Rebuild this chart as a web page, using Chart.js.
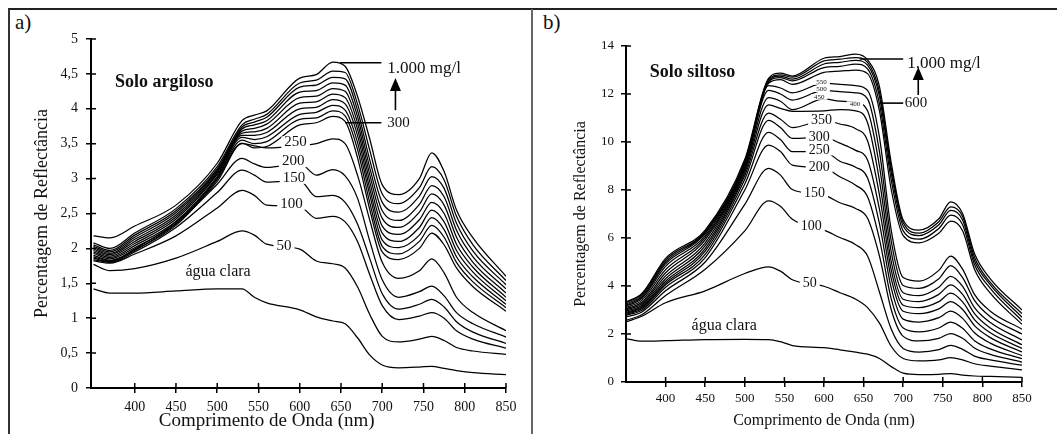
<!DOCTYPE html>
<html lang="pt">
  <head>
    <meta charset="UTF-8" />
    <title>Reflectância de água com sedimentos</title>
    <style>
      * {
        margin: 0;
        padding: 0;
      }
      body {
        width: 1057px;
        height: 434px;
        background: white;
        position: relative;
        overflow: hidden;
        font-family: "Liberation Serif", serif;
      }
      .frame {
        position: absolute;
        left: 8px;
        top: 8px;
        width: 1060px;
        height: 440px;
        border-top: 2px solid #222;
        border-left: 2px solid #333;
      }
      .divider {
        position: absolute;
        left: 531px;
        top: 9px;
        width: 2px;
        height: 430px;
        background: #666;
      }
      .tag {
        position: absolute;
        top: 9px;
        font-size: 21px;
        line-height: 26px;
        color: #111;
      }
      canvas {
        position: absolute;
        top: 10px;
      }
    </style>
  </head>
  <body>
    <div class="frame"></div>
    <div class="divider"></div>
    <div class="tag" style="left: 15px">a)</div>
    <div class="tag" style="left: 543px">b)</div>
    <canvas id="chartA" width="521" height="424" style="left: 10px"></canvas>
    <canvas id="chartB" width="524" height="424" style="left: 533px"></canvas>

    <script src="https://cdn.jsdelivr.net/npm/chart.js"></script>
    <script>
      // comprimento de onda (nm)
      const wavelengths = [350, 370, 400, 450, 500, 530, 545, 560, 600, 620, 640, 655, 670, 685, 700, 720, 745, 760, 775, 790, 810, 850];
      const xTicks = [400, 450, 500, 550, 600, 650, 700, 750, 800, 850];
      const yTicksA = [0, 0.5, 1, 1.5, 2, 2.5, 3, 3.5, 4, 4.5, 5];
      const yTicksB = [0, 2, 4, 6, 8, 10, 12, 14];

      // a) solo argiloso
      const argAgua = [1.42, 1.36, 1.36, 1.39, 1.42, 1.42, 1.30, 1.22, 1.12, 1.02, 0.96, 0.92, 0.72, 0.47, 0.33, 0.29, 0.30, 0.31, 0.28, 0.25, 0.22, 0.19];
      const arg50 = [1.77, 1.68, 1.71, 1.86, 2.10, 2.25, 2.19, 2.06, 1.99, 1.82, 1.78, 1.72, 1.45, 1.05, 0.74, 0.66, 0.70, 0.74, 0.68, 0.58, 0.53, 0.48];
      const arg100 = [1.82, 1.79, 1.92, 2.18, 2.58, 2.83, 2.76, 2.62, 2.60, 2.43, 2.46, 2.38, 2.10, 1.62, 1.18, 0.98, 1.03, 1.08, 1.00, 0.82, 0.70, 0.57];
      const arg150 = [1.84, 1.80, 1.95, 2.30, 2.80, 3.12, 3.05, 2.95, 2.97, 2.74, 2.76, 2.66, 2.35, 1.85, 1.35, 1.13, 1.20, 1.27, 1.16, 0.95, 0.80, 0.64];
      const arg200 = [1.86, 1.81, 1.97, 2.35, 2.92, 3.29, 3.21, 3.16, 3.22, 3.05, 3.13, 3.04, 2.72, 2.10, 1.55, 1.30, 1.38, 1.46, 1.32, 1.08, 0.92, 0.73];
      const arg250 = [1.88, 1.82, 1.99, 2.38, 2.96, 3.50, 3.47, 3.44, 3.47, 3.50, 3.57, 3.50, 3.05, 2.40, 1.80, 1.57, 1.68, 1.85, 1.65, 1.30, 1.08, 0.82];
      const arg300 = [1.90, 1.83, 1.98, 2.33, 2.99, 3.51, 3.44, 3.46, 3.77, 3.80, 3.89, 3.82, 3.30, 2.55, 1.95, 1.84, 2.00, 2.22, 2.05, 1.72, 1.45, 1.10];
      const arg350 = [1.93, 1.85, 2.01, 2.36, 3.01, 3.55, 3.50, 3.53, 3.85, 3.87, 3.97, 3.90, 3.42, 2.65, 2.03, 1.92, 2.10, 2.33, 2.16, 1.80, 1.52, 1.15];
      const arg400 = [1.95, 1.87, 2.04, 2.39, 3.03, 3.59, 3.56, 3.60, 3.92, 3.95, 4.05, 3.98, 3.52, 2.76, 2.12, 2.01, 2.19, 2.44, 2.27, 1.88, 1.59, 1.20];
      const arg450 = [1.97, 1.89, 2.07, 2.42, 3.06, 3.62, 3.62, 3.66, 4.00, 4.02, 4.13, 4.07, 3.62, 2.85, 2.22, 2.10, 2.30, 2.55, 2.38, 1.97, 1.66, 1.25];
      const arg500 = [1.99, 1.91, 2.10, 2.45, 3.08, 3.65, 3.67, 3.72, 4.08, 4.10, 4.21, 4.16, 3.71, 2.95, 2.32, 2.20, 2.41, 2.66, 2.50, 2.06, 1.73, 1.30];
      const arg600 = [2.01, 1.93, 2.13, 2.48, 3.10, 3.68, 3.72, 3.78, 4.16, 4.18, 4.29, 4.25, 3.80, 3.05, 2.43, 2.30, 2.52, 2.78, 2.62, 2.16, 1.80, 1.36];
      const arg700 = [2.03, 1.95, 2.16, 2.51, 3.12, 3.71, 3.77, 3.83, 4.24, 4.26, 4.37, 4.34, 3.89, 3.15, 2.54, 2.40, 2.63, 2.90, 2.74, 2.26, 1.88, 1.42];
      const arg800 = [2.05, 1.97, 2.19, 2.54, 3.14, 3.74, 3.81, 3.88, 4.31, 4.34, 4.45, 4.43, 3.98, 3.26, 2.66, 2.52, 2.75, 3.03, 2.86, 2.36, 1.96, 1.48];
      const arg900 = [2.08, 2.00, 2.22, 2.57, 3.17, 3.77, 3.85, 3.92, 4.37, 4.41, 4.54, 4.52, 4.07, 3.40, 2.78, 2.64, 2.87, 3.17, 2.98, 2.46, 2.05, 1.54];
      const arg1000 = [2.18, 2.15, 2.32, 2.62, 3.22, 3.83, 3.91, 3.97, 4.44, 4.49, 4.67, 4.61, 4.18, 3.56, 2.91, 2.77, 3.00, 3.37, 3.10, 2.55, 2.15, 1.60];

      // b) solo siltoso
      const silAgua = [1.81, 1.70, 1.72, 1.77, 1.78, 1.77, 1.68, 1.52, 1.43, 1.34, 1.24, 1.16, 0.98, 0.64, 0.37, 0.31, 0.32, 0.35, 0.29, 0.25, 0.23, 0.19];
      const sil50 = [2.50, 2.74, 3.30, 3.80, 4.52, 4.80, 4.62, 4.26, 3.99, 3.72, 3.45, 3.10, 2.45, 1.48, 0.98, 0.88, 0.92, 1.02, 0.92, 0.76, 0.66, 0.51];
      const sil100 = [2.57, 2.80, 3.60, 4.70, 6.30, 7.55, 7.32, 6.78, 6.33, 6.02, 5.72, 5.25, 3.75, 2.20, 1.40, 1.25, 1.35, 1.53, 1.36, 1.08, 0.92, 0.70];
      const sil150 = [2.71, 2.92, 3.80, 5.00, 7.40, 8.90, 8.62, 8.02, 7.79, 7.47, 7.23, 6.82, 5.25, 3.00, 1.90, 1.71, 1.82, 2.02, 1.82, 1.42, 1.15, 0.83];
      const sil200 = [2.78, 2.99, 3.95, 5.18, 8.00, 9.87, 9.60, 9.04, 8.92, 8.55, 8.20, 7.72, 5.95, 3.45, 2.25, 2.09, 2.25, 2.50, 2.24, 1.72, 1.38, 0.97];
      const sil250 = [2.82, 3.05, 4.05, 5.32, 8.25, 10.40, 10.10, 9.60, 9.60, 9.20, 8.95, 8.50, 6.60, 3.90, 2.62, 2.50, 2.68, 2.95, 2.65, 2.05, 1.62, 1.10];
      const sil300 = [2.86, 3.10, 4.12, 5.45, 8.45, 10.90, 10.60, 10.15, 10.20, 9.95, 9.65, 9.25, 7.20, 4.30, 2.95, 2.85, 3.05, 3.35, 3.02, 2.35, 1.85, 1.25];
      const sil350 = [2.90, 3.15, 4.20, 5.56, 8.60, 11.20, 10.95, 10.60, 10.90, 10.75, 10.55, 10.05, 7.80, 4.65, 3.20, 3.10, 3.35, 3.70, 3.34, 2.60, 2.05, 1.40];
      const sil400 = [2.95, 3.20, 4.30, 5.68, 8.72, 11.55, 11.40, 11.28, 11.30, 11.35, 11.30, 10.80, 8.40, 5.00, 3.45, 3.35, 3.65, 4.05, 3.65, 2.85, 2.25, 1.55];
      const sil450 = [3.00, 3.26, 4.42, 5.80, 8.82, 11.85, 11.70, 11.35, 11.80, 11.70, 11.65, 11.30, 9.00, 5.40, 3.72, 3.60, 3.95, 4.40, 3.98, 3.10, 2.48, 1.75];
      const sil500 = [3.05, 3.32, 4.55, 5.92, 8.90, 12.15, 12.00, 11.75, 12.15, 12.10, 12.05, 11.80, 9.60, 5.85, 4.02, 3.90, 4.30, 4.85, 4.35, 3.40, 2.72, 2.00];
      const sil550 = [3.10, 3.40, 4.68, 6.02, 8.98, 12.35, 12.25, 12.05, 12.45, 12.40, 12.35, 12.15, 10.20, 6.30, 4.35, 4.20, 4.65, 5.25, 4.70, 3.65, 2.95, 2.20];
      const sil600 = [3.16, 3.48, 4.82, 6.10, 9.05, 12.45, 12.60, 12.40, 12.90, 12.95, 13.00, 12.85, 11.30, 8.00, 6.10, 5.80, 6.20, 6.70, 6.30, 4.70, 3.70, 2.40];
      const sil700 = [3.20, 3.54, 4.92, 6.18, 9.10, 12.50, 12.68, 12.55, 13.10, 13.15, 13.25, 13.05, 11.60, 8.40, 6.30, 5.95, 6.40, 6.95, 6.55, 4.90, 3.90, 2.55];
      const sil800 = [3.25, 3.60, 5.00, 6.24, 9.15, 12.55, 12.75, 12.62, 13.25, 13.32, 13.40, 13.20, 11.90, 8.70, 6.50, 6.10, 6.55, 7.15, 6.75, 5.05, 4.05, 2.70];
      const sil900 = [3.30, 3.65, 5.08, 6.28, 9.20, 12.60, 12.80, 12.70, 13.38, 13.45, 13.52, 13.32, 12.10, 8.90, 6.65, 6.20, 6.68, 7.30, 6.90, 5.20, 4.15, 2.85];
      const sil1000 = [3.34, 3.69, 5.15, 6.33, 9.28, 12.65, 12.87, 12.75, 13.49, 13.56, 13.66, 13.42, 12.31, 9.11, 6.75, 6.33, 6.80, 7.51, 7.02, 5.35, 4.30, 3.00];

      const serif = '"Liberation Serif", "Times New Roman", serif';
      const comma = (v) => String(v).replace(".", ",");

      // texts, pointers and arrow, anchored in data units
      const notes = (n) => ({
        id: "notes",
        afterDatasetsDraw(chart) {
          const { ctx, scales } = chart;
          const px = (v) => scales.x.getPixelForValue(v);
          const py = (v) => scales.y.getPixelForValue(v);
          ctx.save();
          ctx.strokeStyle = "#000";
          ctx.fillStyle = "#000";
          ctx.lineWidth = 1.6;
          n.lines.forEach((l) => {
            ctx.beginPath();
            ctx.moveTo(px(l[0]), py(l[1]));
            ctx.lineTo(px(l[2]), py(l[1]));
            ctx.stroke();
          });
          const ax = px(n.arrow[0]);
          const top = py(n.arrow[2]);
          ctx.beginPath();
          ctx.moveTo(ax, py(n.arrow[1]));
          ctx.lineTo(ax, top + 10);
          ctx.stroke();
          ctx.beginPath();
          ctx.moveTo(ax, top);
          ctx.lineTo(ax - 5.5, top + 13);
          ctx.lineTo(ax + 5.5, top + 13);
          ctx.closePath();
          ctx.fill();

          ctx.textBaseline = "middle";
          n.texts.forEach((t) => {
            ctx.font = (t.bold ? "bold " : "") + (t.size || 15) + "px " + serif;
            ctx.textAlign = t.align || "center";
            const x = px(t.x);
            const y = py(t.y);
            if (t.bg) {
              const w = ctx.measureText(t.t).width + 6;
              const h = (t.size || 15) * 0.8;
              ctx.fillStyle = "#fff";
              ctx.fillRect(x - w / 2, y - h / 2, w, h);
            }
            ctx.fillStyle = "#111";
            ctx.fillText(t.t, x, y);
          });
          ctx.restore();
        },
        afterDraw(chart) {
          // short inner half of the tick marks
          const { ctx, chartArea, scales } = chart;
          ctx.save();
          ctx.strokeStyle = "#000";
          ctx.lineWidth = 1.5;
          ctx.beginPath();
          scales.x.ticks.forEach((t) => {
            const x = scales.x.getPixelForValue(t.value);
            ctx.moveTo(x, chartArea.bottom);
            ctx.lineTo(x, chartArea.bottom - 5);
          });
          scales.y.ticks.forEach((t) => {
            const y = scales.y.getPixelForValue(t.value);
            ctx.moveTo(chartArea.left, y);
            ctx.lineTo(chartArea.left + 5, y);
          });
          ctx.stroke();
          ctx.restore();
        },
      });

      const buildChart = (id, c) =>
        new Chart(document.getElementById(id), {
          type: "line",
          data: {
            datasets: c.series.map((s) => ({
              data: s.map((v, i) => ({ x: wavelengths[i], y: v })),
              borderColor: "#000",
              borderWidth: 1.25,
              pointRadius: 0,
              cubicInterpolationMode: "monotone",
            })),
          },
          options: {
            responsive: false,
            animation: false,
            layout: { padding: { left: 0, top: c.padTop, right: c.padRight, bottom: 0 } },
            plugins: { legend: { display: false }, tooltip: { enabled: false } },
            scales: {
              x: {
                type: "linear",
                min: c.xMin,
                max: 850,
                afterBuildTicks: (s) => {
                  s.ticks = xTicks.map((v) => ({ value: v }));
                },
                afterFit: (s) => {
                  s.height = c.xHeight;
                },
                border: { color: "#000", width: 2 },
                grid: { drawOnChartArea: false, tickLength: 5, color: "#000", lineWidth: 1.5 },
                ticks: { color: "#111", padding: c.xPad, font: { family: serif, size: c.tickSize } },
                title: {
                  display: c.xTitle,
                  text: "Comprimento de Onda (nm)",
                  color: "#111",
                  padding: { top: 0, bottom: 4 },
                  font: { family: serif, size: 16 },
                },
              },
              y: {
                min: 0,
                max: c.yMax,
                afterBuildTicks: (s) => {
                  s.ticks = c.yTicks.map((v) => ({ value: v }));
                },
                afterFit: (s) => {
                  s.width = c.yWidth;
                },
                border: { color: "#000", width: 2 },
                grid: { drawOnChartArea: false, tickLength: 5, color: "#000", lineWidth: 1.5 },
                ticks: { color: "#111", padding: c.yPad, font: { family: serif, size: c.tickSize }, callback: comma },
                title: {
                  display: true,
                  text: "Percentagem de Reflectância",
                  color: "#111",
                  padding: { top: c.yTitlePad, bottom: 0 },
                  font: { family: serif, size: c.yTitleSize },
                },
              },
            },
          },
          plugins: [notes(c.notes)],
        });

      buildChart("chartA", {
        series: [argAgua, arg50, arg100, arg150, arg200, arg250, arg300, arg350, arg400, arg450, arg500, arg600, arg700, arg800, arg900, arg1000],
        xMin: 347,
        yMax: 5,
        yTicks: yTicksA,
        padTop: 29,
        padRight: 25,
        xHeight: 46,
        yWidth: 81,
        xPad: 6,
        yPad: 8,
        tickSize: 14,
        xTitle: false,
        yTitleSize: 18,
        yTitlePad: 21,
        notes: {
          lines: [
            [649, 4.66, 699],
            [655, 3.8, 699],
          ],
          arrow: [716, 3.98, 4.44],
          texts: [
            { t: "Solo argiloso", x: 376, y: 4.38, size: 18, bold: true, align: "left" },
            { t: "1.000 mg/l", x: 706, y: 4.58, size: 17, align: "left" },
            { t: "300", x: 706, y: 3.8, size: 15, align: "left" },
            { t: "250", x: 595, y: 3.52, bg: true },
            { t: "200", x: 592, y: 3.25, bg: true },
            { t: "150", x: 593, y: 3.01, bg: true },
            { t: "100", x: 590, y: 2.64, bg: true },
            { t: "50", x: 581, y: 2.03, bg: true },
            { t: "água clara", x: 501, y: 1.66, size: 16 },
            { t: "Comprimento de Onda (nm)", x: 560, y: -0.48, size: 19 },
          ],
        },
      });

      buildChart("chartB", {
        series: [silAgua, sil50, sil100, sil150, sil200, sil250, sil300, sil350, sil400, sil450, sil500, sil550, sil600, sil700, sil800, sil900, sil1000],
        xMin: 350,
        yMax: 14,
        yTicks: yTicksB,
        padTop: 36,
        padRight: 35,
        xHeight: 52,
        yWidth: 93,
        xPad: 4,
        yPad: 7,
        tickSize: 13,
        xTitle: true,
        yTitleSize: 16,
        yTitlePad: 38,
        notes: {
          lines: [
            [645, 13.46, 700],
            [670, 11.62, 700],
          ],
          arrow: [719, 11.96, 13.12],
          texts: [
            { t: "Solo siltoso", x: 380, y: 12.92, size: 18, bold: true, align: "left" },
            { t: "1.000 mg/l", x: 705, y: 13.29, size: 17, align: "left" },
            { t: "600", x: 702, y: 11.62, size: 15, align: "left" },
            { t: "550", x: 597, y: 12.5, size: 7, bg: true },
            { t: "500", x: 597, y: 12.2, size: 7, bg: true },
            { t: "450", x: 594, y: 11.88, size: 7, bg: true },
            { t: "400", x: 639, y: 11.58, size: 7, bg: true },
            { t: "350", x: 597, y: 10.92, size: 14, bg: true },
            { t: "300", x: 594, y: 10.2, size: 14, bg: true },
            { t: "250", x: 594, y: 9.67, size: 14, bg: true },
            { t: "200", x: 594, y: 8.96, size: 14, bg: true },
            { t: "150", x: 588, y: 7.87, size: 14, bg: true },
            { t: "100", x: 584, y: 6.5, size: 14, bg: true },
            { t: "50", x: 582, y: 4.12, size: 14, bg: true },
            { t: "água clara", x: 474, y: 2.33, size: 16 },
          ],
        },
      });
    </script>
  </body>
</html>
